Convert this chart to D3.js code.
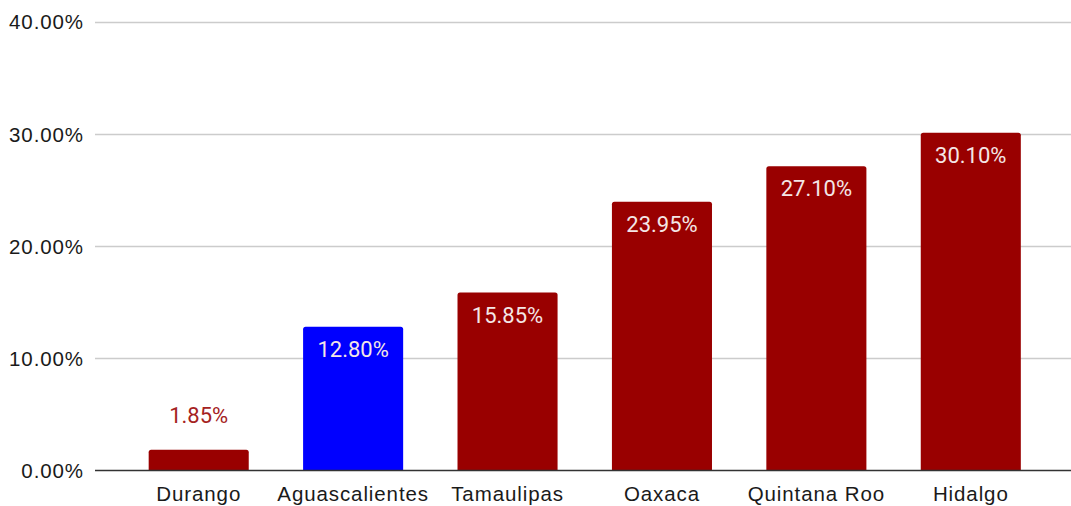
<!DOCTYPE html>
<html><head><meta charset="utf-8">
<script src="https://cdn.jsdelivr.net/npm/d3@7"></script>
<style>body{margin:0;background:#fff}svg{display:block}</style>
</head><body>
<svg id="c" width="1071" height="506"></svg>
<script>
const categories = ["Durango","Aguascalientes","Tamaulipas","Oaxaca","Quintana Roo","Hidalgo"];
const values = [1.85, 12.80, 15.85, 23.95, 27.10, 30.10];
const highlight = ["Aguascalientes"];
const yTicks = [0, 10, 20, 30, 40];

const svg = d3.select("#c");
const x = d3.scaleBand().domain(categories).range([121.5, 1048]).paddingInner(0.352).paddingOuter(0.176);
const y = d3.scaleLinear().domain([0, 40]).range([470.5, 21.5]);
const fmt = v => v.toFixed(2) + "%";

// gridlines
svg.append("g").selectAll("line").data(yTicks.filter(t => t > 0)).join("line")
  .attr("x1", 95).attr("x2", 1071)
  .attr("y1", d => Math.round(y(d)) + 0.5).attr("y2", d => Math.round(y(d)) + 0.5)
  .attr("stroke", "#cccccc").attr("stroke-width", 1.3);

// y labels
const yAxis = d3.axisLeft(y).tickValues(yTicks).tickFormat(fmt).tickSize(0).tickPadding(0);
const ya = svg.append("g").attr("transform", "translate(84,0)").call(yAxis);
ya.select(".domain").remove();
ya.selectAll("text").attr("font-family", "Liberation Sans, Arial, sans-serif")
  .attr("font-size", 20.5).attr("letter-spacing", "0.9px").attr("fill", "#1a1a1a").attr("dy", "0.36em");

// bars with rounded tops
const r = 2.5;
svg.append("g").selectAll("path").data(categories).join("path")
  .attr("fill", (d) => highlight.includes(d) ? "#0000ff" : "#990000")
  .attr("d", (d, i) => {
    const x0 = x(d), w = x.bandwidth(), t = y(values[i]), b = y(0);
    return `M${x0},${b}V${t + r}Q${x0},${t} ${x0 + r},${t}H${x0 + w - r}Q${x0 + w},${t} ${x0 + w},${t + r}V${b}Z`;
  });

// data labels
svg.append("g").selectAll("text").data(categories).join("text")
  .attr("x", d => x(d) + x.bandwidth() / 2)
  .attr("y", (d, i) => values[i] < 5 ? y(values[i]) - 27 : y(values[i]) + 30)
  .attr("text-anchor", "middle")
  .attr("font-family", "Roboto, sans-serif").attr("font-size", 22)
  .attr("fill", (d, i) => values[i] < 5 ? "#a52222" : "#f4e6e6")
  .text((d, i) => fmt(values[i]));

// x axis
const xAxis = d3.axisBottom(x).tickSize(0).tickPadding(0);
const xa = svg.append("g").attr("transform", `translate(0,${y(0)})`).call(xAxis);
xa.select(".domain").remove();
xa.selectAll("text").attr("font-family", "Liberation Sans, Arial, sans-serif")
  .attr("font-size", 20.5).attr("letter-spacing", "0.9px").attr("fill", "#1a1a1a")
  .attr("dy", null).attr("y", 30.5);
svg.append("line").attr("x1", 95).attr("x2", 1071).attr("y1", y(0)).attr("y2", y(0))
  .attr("stroke", "#333").attr("stroke-width", 1.6);
</script>
</body></html>
